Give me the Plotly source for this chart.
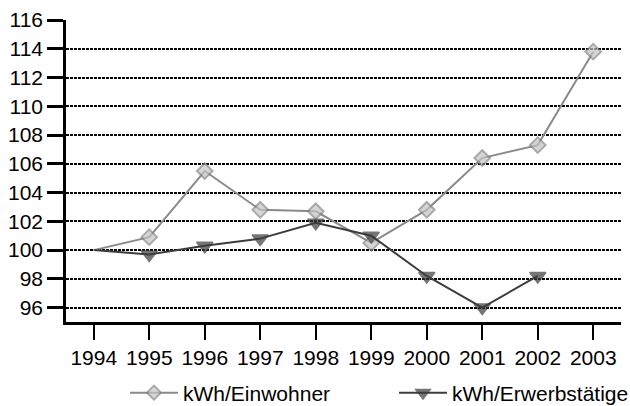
import plotly.graph_objects as go

# Index values (1994 = 100)
years = ["1994", "1995", "1996", "1997", "1998", "1999", "2000", "2001", "2002", "2003"]
kwh_einwohner = [100.0, 100.9, 105.5, 102.8, 102.7, 100.5, 102.8, 106.4, 107.3, 113.8]
kwh_erwerbstaetige = [100.0, 99.7, 100.3, 100.8, 101.9, 101.0, 98.2, 96.0, 98.2, None]
y_ticks = list(range(96, 117, 2))

font = dict(family="Liberation Sans, Arial, sans-serif", size=21, color="black")

# base year carries no marker
def sizes(n, s):
    return [0] + [s] * (n - 1)

fig = go.Figure()
fig.add_trace(go.Scatter(
    x=years, y=kwh_einwohner, name="kWh/Einwohner", mode="lines+markers",
    line=dict(color="#8a8a8a", width=2),
    marker=dict(symbol="diamond", size=sizes(len(years), 12), color="#c4c4c4",
                line=dict(color="#858585", width=2)),
))
fig.add_trace(go.Scatter(
    x=years, y=kwh_erwerbstaetige, name="kWh/Erwerbstätige", mode="lines+markers",
    line=dict(color="#3c3c3c", width=2),
    marker=dict(symbol="triangle-down", size=sizes(len(years), 14), color="#3c3c3c",
                line=dict(color="#3c3c3c", width=1.5)),
    connectgaps=False,
))

fig.update_layout(
    width=630, height=406,
    margin=dict(l=66, r=9, t=20, b=84, autoexpand=False),
    paper_bgcolor="white", plot_bgcolor="white",
    font=font,
    showlegend=True,
    legend=dict(orientation="h", xref="container", yref="container",
                x=125 / 630, y=1 - 393 / 406, xanchor="left", yanchor="middle",
                font=font, itemwidth=48, entrywidth=206, entrywidthmode="pixels",
                bgcolor="rgba(0,0,0,0)", tracegroupgap=0),
)
fig.update_xaxes(
    type="category", range=[-0.5, 9.5],
    showline=True, linecolor="black", linewidth=2.5,
    ticks="outside", ticklen=15, tickwidth=2, tickcolor="black",
    showgrid=False, zeroline=False, tickfont=font,
)
fig.update_yaxes(
    range=[95, 116], tickvals=y_ticks,
    showline=True, linecolor="black", linewidth=2.5,
    ticks="outside", ticklen=16, tickwidth=2.5, tickcolor="black",
    showgrid=True, gridcolor="black", gridwidth=2, griddash="3px,1px",
    zeroline=False, tickfont=font,
)

fig.write_html("out.html")
